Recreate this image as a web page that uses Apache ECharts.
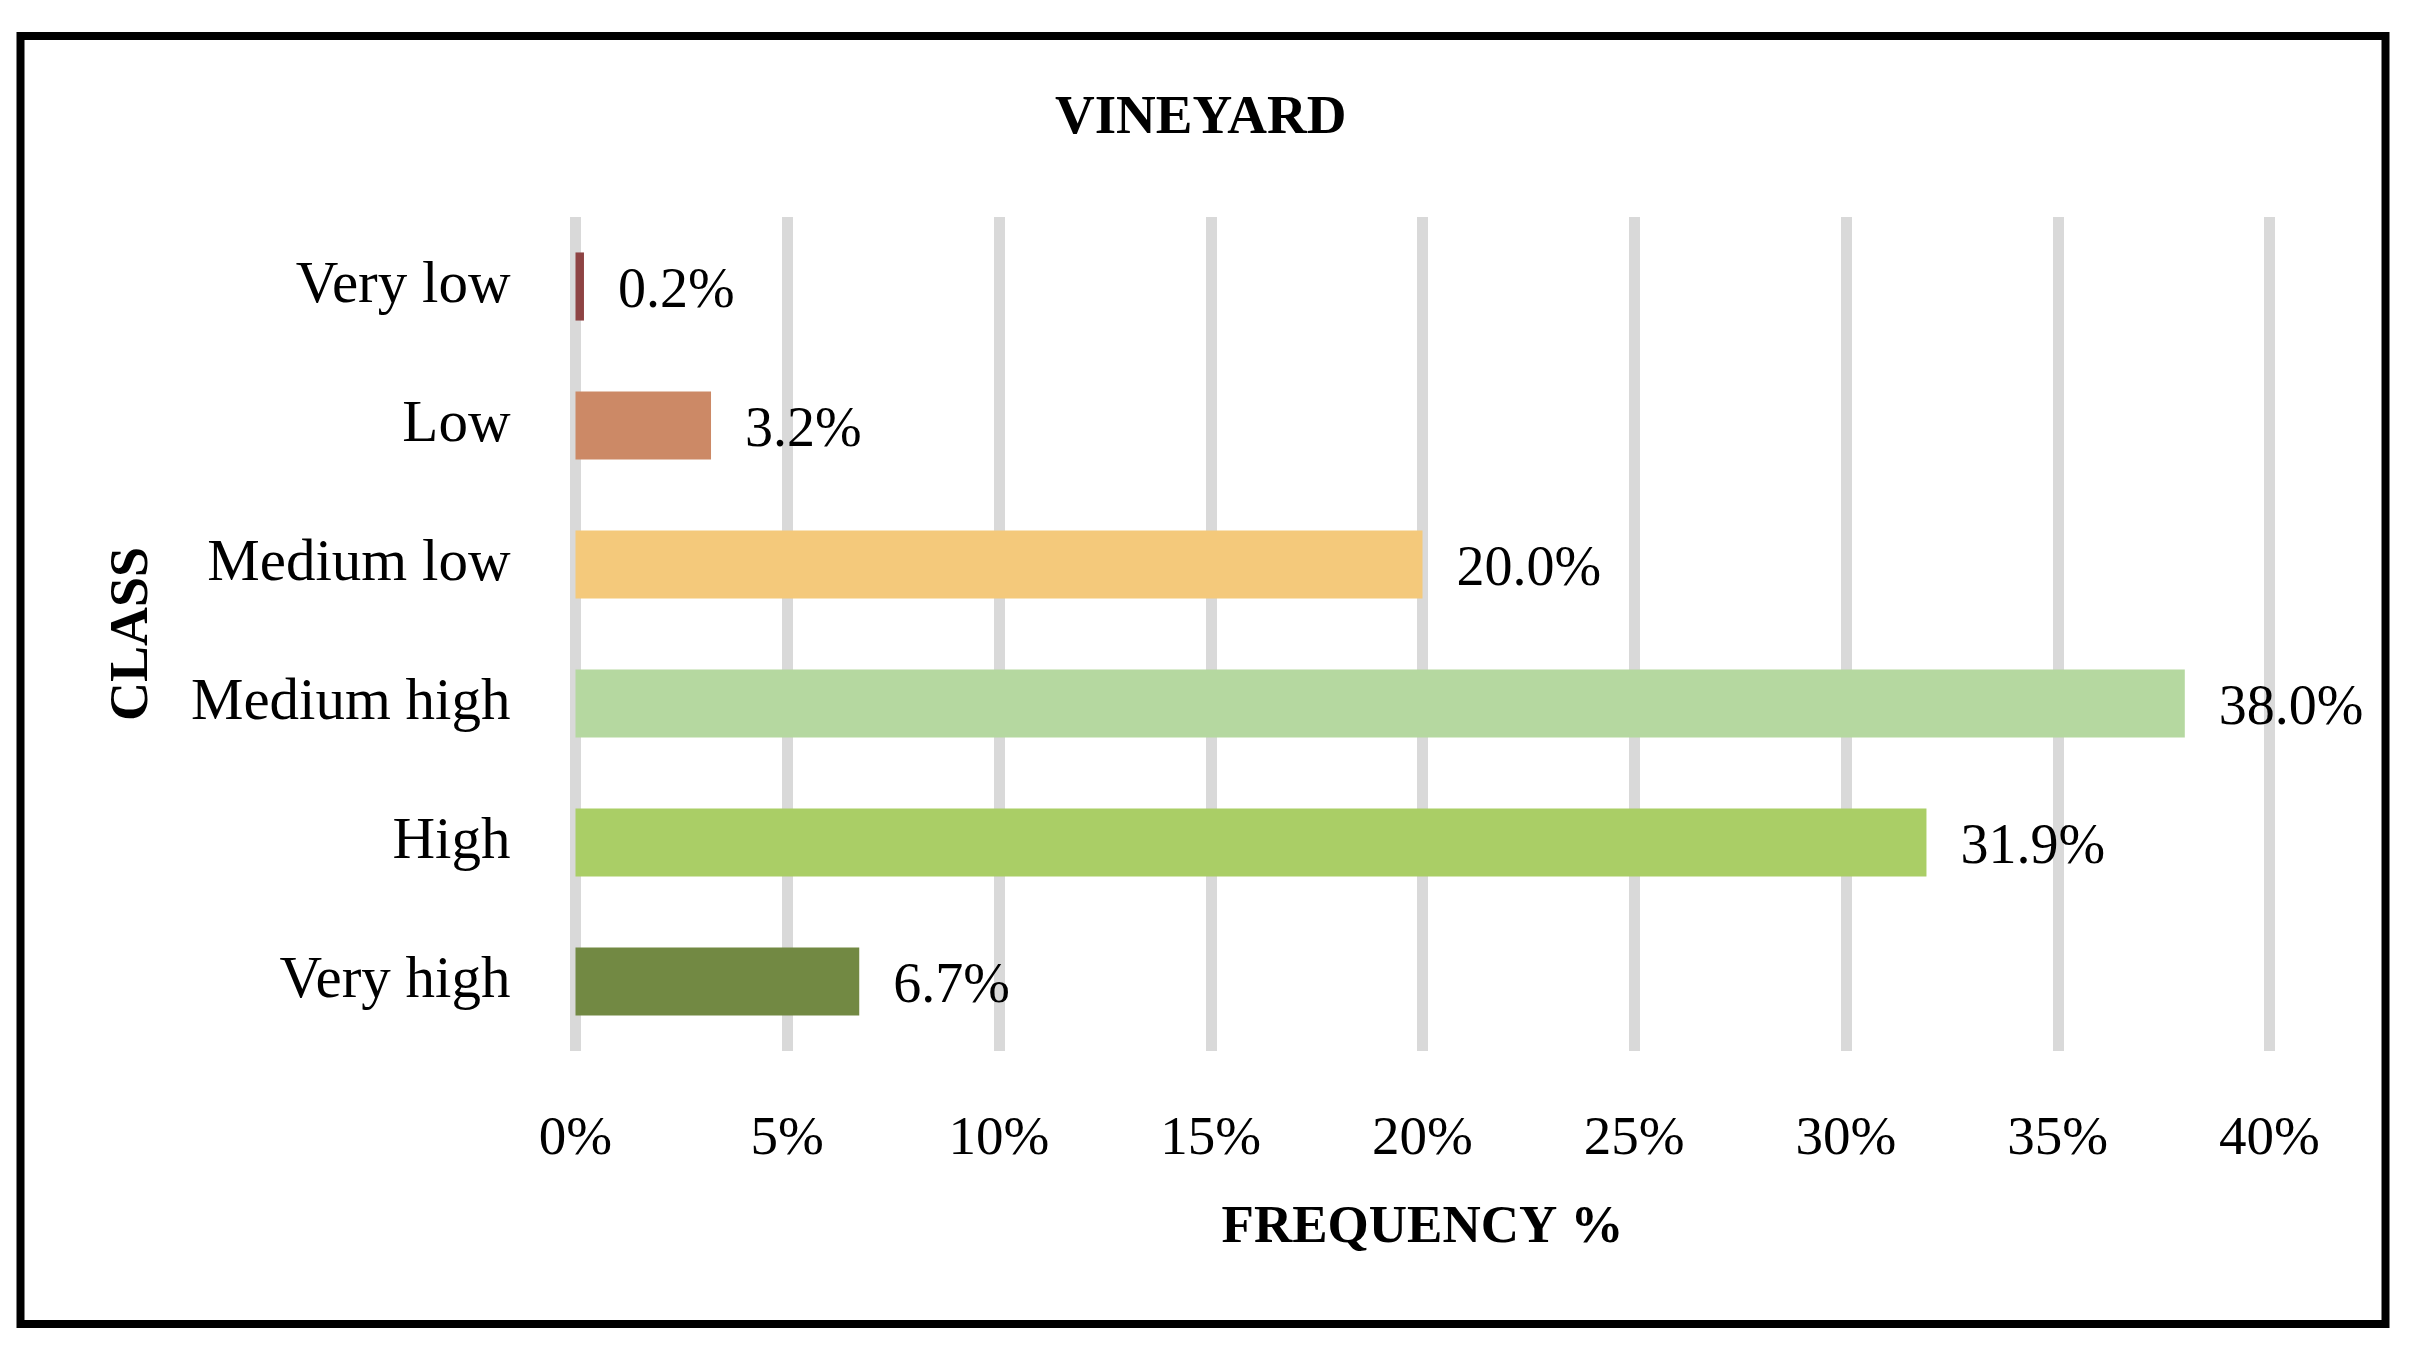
<!DOCTYPE html>
<html>
<head>
<meta charset="utf-8">
<script src="https://cdn.jsdelivr.net/npm/echarts@6/dist/echarts.min.js"></script>
<style>
html,body{margin:0;padding:0;background:#fff;}
#c{width:2422px;height:1366px;}
</style>
</head>
<body>
<div id="c"></div>
<script>
const categories = ['Very low', 'Low', 'Medium low', 'Medium high', 'High', 'Very high'];
const values = [0.2, 3.2, 20.0, 38.0, 31.9, 6.7];
const barColors = ['#8E4343', '#CC8966', '#F4C97B', '#B5D8A0', '#AACE66', '#728943'];
const xTicks = [0, 5, 10, 15, 20, 25, 30, 35, 40];

const FONT = '"Liberation Serif", "Times New Roman", serif';
const chart = echarts.init(document.getElementById('c'));
chart.setOption({
  backgroundColor: '#fff',
  animation: false,
  title: {
    text: 'VINEYARD',
    left: 1050,
    top: 86,
    textStyle: {fontFamily: FONT, fontSize: 55, fontWeight: 'bold', color: '#000'}
  },
  graphic: [{
    type: 'rect',
    shape: {x: 20.5, y: 36, width: 2365, height: 1288},
    style: {fill: 'none', stroke: '#000', lineWidth: 8},
    z: 100
  }],
  grid: {left: 575.5, right: 152.5, top: 217, bottom: 315, containLabel: false},
  xAxis: {
    type: 'value',
    min: xTicks[0],
    max: xTicks[xTicks.length - 1],
    interval: 5,
    name: 'FREQUENCY %',
    nameLocation: 'middle',
    nameGap: 151,
    nameTextStyle: {fontFamily: FONT, fontSize: 53, fontWeight: 'bold', color: '#000'},
    axisLine: {show: false},
    axisTick: {show: false},
    axisLabel: {formatter: '{value}%', fontFamily: FONT, fontSize: 55, color: '#000', margin: 61},
    splitLine: {show: true, lineStyle: {color: '#D9D9D9', width: 11}}
  },
  yAxis: {
    type: 'category',
    data: categories,
    inverse: true,
    name: 'CLASS',
    nameLocation: 'middle',
    nameRotate: 90,
    nameGap: 415,
    nameTextStyle: {fontFamily: FONT, fontSize: 54, fontWeight: 'bold', color: '#000'},
    axisLine: {show: false},
    axisTick: {show: false},
    axisLabel: {fontFamily: FONT, fontSize: 59, color: '#000', margin: 65, padding: [6, 0, 0, 0]},
    splitLine: {show: false}
  },
  series: [{
    type: 'bar',
    data: values.map((v, i) => ({value: v, itemStyle: {color: barColors[i]}})),
    barCategoryGap: '51%',
    label: {
      show: true,
      position: 'right',
      distance: 34,
      offset: [0, 6],
      fontFamily: FONT,
      fontSize: 56,
      color: '#000',
      formatter: p => p.value.toFixed(1) + '%'
    }
  }]
});
</script>
</body>
</html>
